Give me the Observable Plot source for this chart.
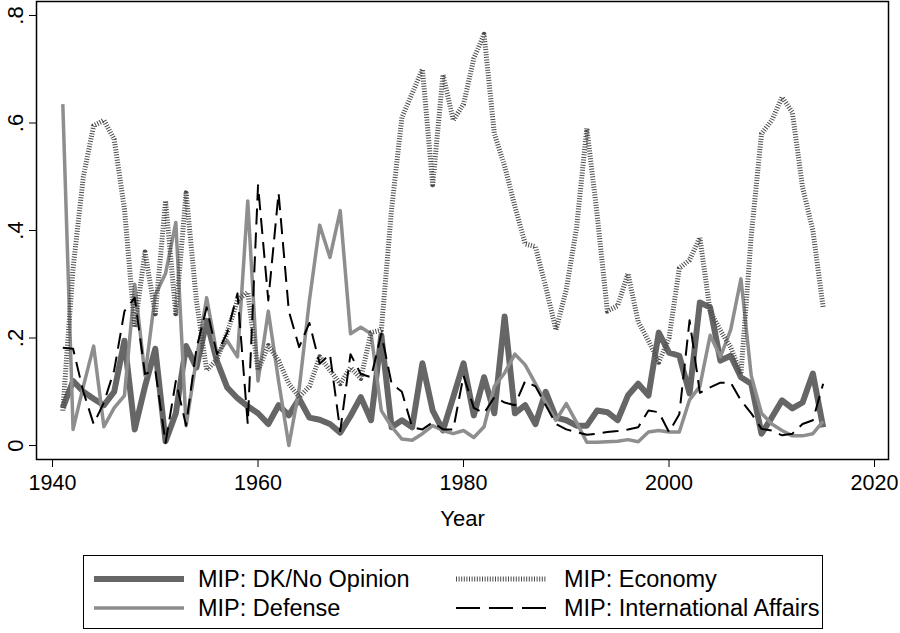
<!DOCTYPE html>
<html><head><meta charset="utf-8">
<script src="https://cdn.jsdelivr.net/npm/d3@7"></script>
<script src="https://cdn.jsdelivr.net/npm/@observablehq/plot@0.6"></script>
<style>
body{margin:0;background:#fff;font-family:"Liberation Sans",Arial,Helvetica,sans-serif;}
#wrap{position:relative;width:900px;height:633px;overflow:hidden;}
#legend{position:absolute;left:83px;top:555px;width:740px;height:74px;border:1.5px solid #000;box-sizing:border-box;font-size:23.5px;color:#000;}
.item{position:absolute;height:30px;line-height:30px;white-space:nowrap;}
.item svg{position:absolute;left:0;top:0;}
.item span{position:absolute;top:0;}
</style></head>
<body><div id="wrap"><div id="chart"></div><div id="legend"></div></div>
<script>
const years = [1941,1942,1943,1944,1945,1946,1947,1948,1949,1950,1951,1952,1953,1954,1955,1956,1957,1958,1959,1960,
1961,1962,1963,1964,1965,1966,1967,1968,1969,1970,1971,1972,1973,1974,1975,1976,1977,1978,1979,1980,
1981,1982,1983,1984,1985,1986,1987,1988,1989,1990,1991,1992,1993,1994,1995,1996,1997,1998,1999,2000,
2001,2002,2003,2004,2005,2006,2007,2008,2009,2010,2011,2012,2013,2014,2015];

const dkNoOpinion = [0.07,0.12,0.10,0.087,0.075,0.10,0.195,0.03,0.11,0.18,0.008,0.06,0.185,0.145,0.232,0.157,0.108,0.088,0.073,0.06,
0.04,0.075,0.056,0.087,0.052,0.048,0.04,0.024,0.055,0.09,0.047,0.205,0.034,0.047,0.034,0.153,0.065,0.028,0.09,0.153,
0.056,0.127,0.06,0.24,0.06,0.075,0.04,0.10,0.052,0.047,0.037,0.037,0.065,0.062,0.047,0.093,0.115,0.093,0.21,0.173,
0.167,0.097,0.266,0.257,0.158,0.167,0.127,0.115,0.022,0.052,0.084,0.069,0.08,0.134,0.034];

const defense = [0.635,0.03,0.11,0.185,0.035,0.07,0.093,0.30,0.13,0.28,0.32,0.415,0.037,0.16,0.275,0.17,0.195,0.165,0.455,0.12,
0.25,0.12,0.0,0.105,0.27,0.41,0.35,0.437,0.208,0.22,0.208,0.065,0.035,0.012,0.01,0.022,0.037,0.028,0.022,0.028,
0.015,0.035,0.11,0.135,0.17,0.15,0.115,0.08,0.047,0.078,0.043,0.006,0.006,0.007,0.008,0.011,0.007,0.025,0.028,0.025,
0.025,0.085,0.11,0.205,0.165,0.215,0.31,0.13,0.06,0.04,0.028,0.018,0.018,0.022,0.045];

const economy = [0.065,0.33,0.50,0.595,0.605,0.57,0.44,0.22,0.36,0.245,0.455,0.245,0.47,0.27,0.14,0.16,0.21,0.27,0.285,0.14,
0.186,0.158,0.115,0.09,0.11,0.165,0.14,0.115,0.145,0.125,0.21,0.215,0.44,0.61,0.655,0.70,0.485,0.69,0.605,0.635,
0.72,0.765,0.58,0.52,0.445,0.375,0.37,0.295,0.215,0.29,0.405,0.59,0.43,0.25,0.26,0.32,0.23,0.195,0.155,0.20,
0.33,0.345,0.387,0.25,0.214,0.183,0.133,0.39,0.58,0.605,0.648,0.62,0.48,0.40,0.257];

const internationalAffairs = [0.182,0.18,0.10,0.04,0.08,0.14,0.25,0.275,0.133,0.14,0.005,0.12,0.037,0.18,0.257,0.17,0.21,0.283,0.04,0.484,
0.27,0.47,0.25,0.183,0.228,0.152,0.17,0.027,0.17,0.133,0.127,0.208,0.115,0.10,0.034,0.03,0.043,0.03,0.03,0.13,
0.07,0.06,0.09,0.08,0.075,0.12,0.11,0.075,0.04,0.03,0.025,0.02,0.022,0.025,0.027,0.03,0.034,0.065,0.062,0.025,
0.058,0.233,0.098,0.108,0.117,0.117,0.084,0.06,0.031,0.028,0.019,0.022,0.04,0.047,0.115];

const seriesNames = ["MIP: DK/No Opinion","MIP: Defense","MIP: Economy","MIP: International Affairs"];
const xTicks = [1940,1960,1980,2000,2020];
const yTicks = [0,0.2,0.4,0.6,0.8];
const yTickLabels = ["0",".2",".4",".6",".8"];

const styles = [
  {stroke:"#666666", strokeWidth:6, dash:null},
  {stroke:"#8e8e8e", strokeWidth:3.5, dash:null},
  {stroke:"#4a4a4a", strokeWidth:5, dash:"1,1.6"},
  {stroke:"#000000", strokeWidth:2, dash:"16,8"}
];
const seriesValues = [dkNoOpinion, defense, economy, internationalAffairs];

const rows = [];
seriesValues.forEach((vals, s) => years.forEach((yr, i) => rows.push({series: seriesNames[s], year: yr, value: vals[i]})));

const lineMarks = seriesNames.map((name, s) => Plot.line(rows.filter(r => r.series === name), {
  x: "year", y: "value", stroke: styles[s].stroke, strokeWidth: styles[s].strokeWidth,
  strokeDasharray: styles[s].dash, strokeLinejoin: "round", strokeLinecap: "butt"
}));

const chart = Plot.plot({
  width: 900, height: 545,
  marginLeft: 36, marginRight: 12, marginTop: 1, marginBottom: 86,
  style: {fontFamily: '"Liberation Sans", Arial, Helvetica, sans-serif', fontSize: "22px", background: "white", color: "black", overflow: "visible"},
  x: {domain: [1938.44, 2021.36]},
  y: {domain: [-0.026, 0.826]},
  marks: [
    ...lineMarks,
    Plot.frame({stroke: "black", strokeWidth: 1.5}),
    Plot.axisX({ticks: xTicks, tickSize: 8, tickPadding: 7, tickFormat: d => String(d), label: null, fontSize: 21.5}),
    Plot.axisY({ticks: yTicks, tickSize: 7, tickFormat: () => "", label: null}),
    Plot.text(yTicks, {y: d => d, text: (d, i) => yTickLabels[i], frameAnchor: "left", textAnchor: "middle", lineAnchor: "middle", dx: -21, rotate: -90, fontSize: 22}),
    Plot.text(["Year"], {frameAnchor: "bottom", dy: 66, text: d => d, fontSize: 22})
  ]
});
document.getElementById("chart").appendChild(chart);

// legend (column-major order, two columns)
const legend = document.getElementById("legend");
const pos = [{x:10,y:8},{x:10,y:37},{x:372,y:8},{x:372,y:37}];
seriesNames.forEach((name, s) => {
  const st = styles[s];
  const div = document.createElement("div");
  div.className = "item";
  div.style.left = pos[s].x + "px";
  div.style.top = pos[s].y + "px";
  div.innerHTML = `<svg width="92" height="30"><line x1="0" x2="90" y1="15" y2="15" stroke="${st.stroke}" stroke-width="${st.strokeWidth}" ${st.dash ? `stroke-dasharray="${s===3 ? '24,9' : st.dash}"` : ""}/></svg><span style="left:${s<2?104:108}px">${name}</span>`;
  legend.appendChild(div);
});
</script>
</body></html>
